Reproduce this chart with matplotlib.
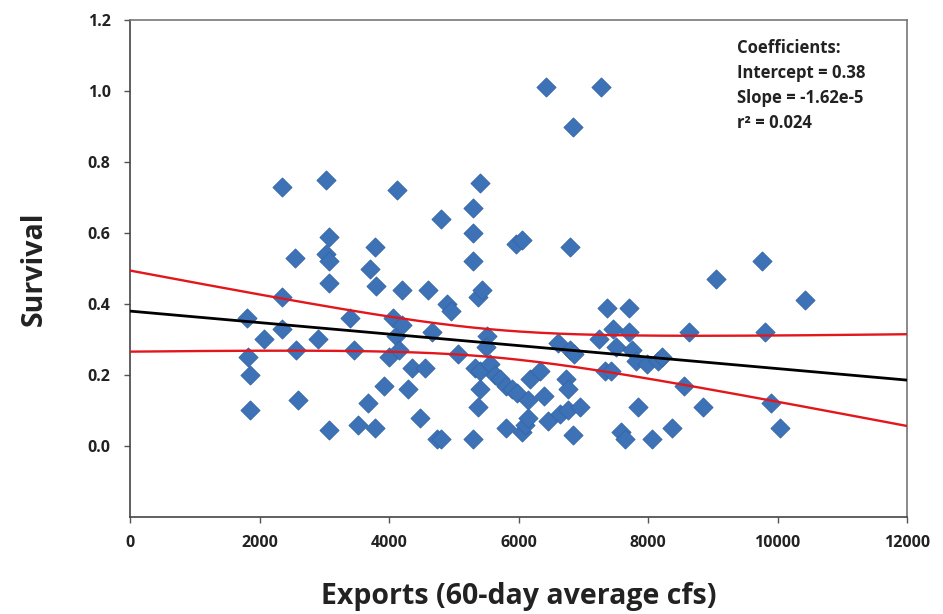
import numpy as np
import matplotlib
matplotlib.use("Agg")
import matplotlib.pyplot as plt

# ---- data ----
exports = [1800, 1820, 1850, 1850, 2070, 2350, 2350, 2350, 2550, 2570, 2600, 2900,
           3030, 3070, 3030, 3070, 3070, 3080, 3400, 3460, 3520, 3700, 3780, 3800,
           3680, 3780, 3920, 4060, 4120, 4000, 4100, 4200, 4200, 4150, 4300, 4350,
           4480, 4560, 4600, 4660, 4740, 4800, 4800, 4900, 4950, 5060, 5290, 5290,
           5290, 5400, 5370, 5430, 5320, 5400, 5400, 5370, 5300, 5510, 5500, 5560,
           5640, 5720, 5800, 5900, 5800, 5960, 6050, 5980, 6050, 6100, 6150, 6180,
           6150, 6330, 6400, 6420, 6450, 6610, 6640, 6760, 6740, 6770, 6800, 6840,
           6800, 6840, 6850, 6950, 7270, 7240, 7340, 7370, 7420, 7460, 7500, 7580,
           7650, 7700, 7700, 7750, 7850, 7820, 7980, 8060, 8150, 8220, 8370, 8560,
           8630, 8850, 9050, 9760, 9800, 9900, 10040, 10420]
survival = [0.36, 0.25, 0.20, 0.10, 0.30, 0.73, 0.42, 0.33, 0.53, 0.27, 0.13, 0.30,
            0.75, 0.59, 0.54, 0.52, 0.46, 0.045, 0.36, 0.27, 0.06, 0.50, 0.56, 0.45,
            0.12, 0.05, 0.17, 0.36, 0.72, 0.25, 0.31, 0.44, 0.34, 0.27, 0.16, 0.22,
            0.08, 0.22, 0.44, 0.32, 0.02, 0.02, 0.64, 0.40, 0.38, 0.26, 0.67, 0.60,
            0.52, 0.74, 0.42, 0.44, 0.22, 0.21, 0.16, 0.11, 0.02, 0.31, 0.28, 0.23,
            0.20, 0.19, 0.17, 0.16, 0.05, 0.57, 0.58, 0.15, 0.04, 0.06, 0.13, 0.19,
            0.08, 0.21, 0.14, 1.01, 0.07, 0.29, 0.09, 0.10, 0.19, 0.16, 0.27, 0.90,
            0.56, 0.03, 0.26, 0.11, 1.01, 0.30, 0.21, 0.39, 0.21, 0.33, 0.28, 0.04,
            0.02, 0.39, 0.32, 0.27, 0.11, 0.24, 0.23, 0.02, 0.24, 0.25, 0.05, 0.17,
            0.32, 0.11, 0.47, 0.52, 0.32, 0.12, 0.05, 0.41]

intercept = 0.38
slope = -1.62e-5
xticks = [0, 2000, 4000, 6000, 8000, 10000, 12000]
yticks = [0.0, 0.2, 0.4, 0.6, 0.8, 1.0, 1.2]
annotation = ["Coefficients:", "Intercept = 0.38", "Slope = -1.62e-5", "r\u00b2 = 0.024"]

# ---- figure ----
plt.rcParams['font.family'] = ['Open Sans', 'DejaVu Sans']
fig = plt.figure(figsize=(9.43, 6.14), dpi=100)
ax = fig.add_axes([0.1379, 0.158, 0.824, 0.8094])

x = np.array(exports, dtype=float)
y = np.array(survival, dtype=float)

ax.scatter(x, y, marker='D', s=95, color='#3E72B7', edgecolors='#3565A8',
           linewidths=0.6, zorder=3)

# regression line + 95% confidence band
xs = np.linspace(0, 12000, 200)
fit = intercept + slope * xs
resid = y - (intercept + slope * x)
n = len(x)
s = np.sqrt(np.sum(resid ** 2) / (n - 2))
xbar = x.mean()
sxx = np.sum((x - xbar) ** 2)
hw = 1.98 * s * np.sqrt(1.0 / n + (xs - xbar) ** 2 / sxx)
ax.plot(xs, fit, color='black', lw=2.0, zorder=4)
ax.plot(xs, fit + hw, color='#E3161C', lw=1.7, zorder=4)
ax.plot(xs, fit - hw, color='#E3161C', lw=1.7, zorder=4)

ax.set_xlim(0, 12000)
ax.set_ylim(-0.2, 1.2)
ax.set_xticks(xticks)
ax.set_xticklabels([str(v) for v in xticks])
ax.set_yticks(yticks)
ax.set_yticklabels([f"{v:.1f}" for v in yticks])
for lab in ax.get_xticklabels() + ax.get_yticklabels():
    lab.set_fontweight('bold')
    lab.set_fontsize(11.5)
    lab.set_color('#222222')
ax.tick_params(axis='x', direction='out', length=4, width=1, color='#555555', pad=9)
ax.tick_params(axis='y', direction='out', length=4, width=1, color='#555555', pad=10)

for sp in ax.spines.values():
    sp.set_color('#777777')
    sp.set_linewidth(1.2)
ax.spines['left'].set_color('#444444')
ax.spines['bottom'].set_color('#444444')

ax.set_xlabel("Exports (60-day average cfs)", fontsize=20.5, fontweight='bold',
              labelpad=22, color='#222222')
ax.set_ylabel("Survival", fontsize=20.5, fontweight='bold', labelpad=28, color='#222222')

ax.text(0.7805, 0.962, "\n".join(annotation), transform=ax.transAxes,
        ha='left', va='top', fontsize=12, fontweight='bold',
        linespacing=1.5, color='#222222')

fig.savefig("out.png", dpi=100)
